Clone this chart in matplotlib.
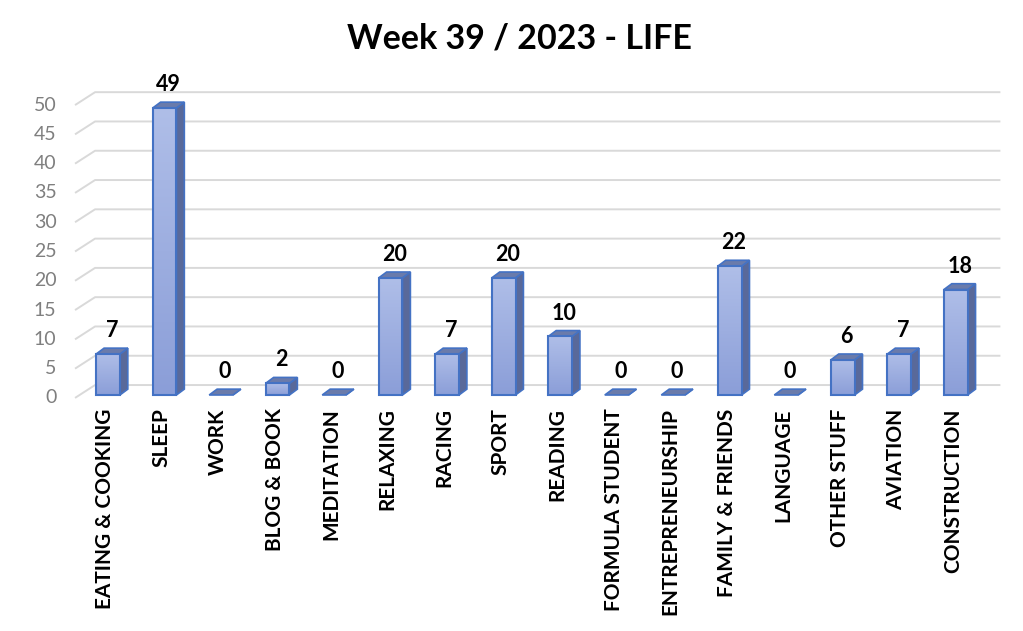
import numpy as np
import matplotlib.pyplot as plt
from matplotlib.patches import Polygon, Rectangle
from matplotlib.colors import LinearSegmentedColormap

categories = ["EATING & COOKING", "SLEEP", "WORK", "BLOG & BOOK", "MEDITATION",
              "RELAXING", "RACING", "SPORT", "READING", "FORMULA STUDENT",
              "ENTREPRENEURSHIP", "FAMILY & FRIENDS", "LANGUAGE", "OTHER STUFF",
              "AVIATION", "CONSTRUCTION"]
hours = [7, 49, 0, 2, 0, 20, 7, 20, 10, 0, 0, 22, 0, 6, 7, 18]
y_ticks = [0, 5, 10, 15, 20, 25, 30, 35, 40, 45, 50]

plt.rcParams['font.family'] = ['Lato', 'DejaVu Sans']

fig = plt.figure(figsize=(10.23, 6.31), dpi=100)
# axes box in pixels: x 60..1010, y 80..400 (from top)
ax = fig.add_axes([60 / 1023, 1 - 400 / 631, 950 / 1023, 320 / 631])
ax.set_xlim(-0.85, 15.96)
ax.set_ylim(-0.854, 53.78)
ax.axis('off')

# 3d look offsets (data units)
half_w = 0.21
dx, dy = 0.14, 1.0
grid_front_x, grid_back_x, grid_right = -0.584, -0.23, 15.79

grid_col = '#d9d9d9'
for v in y_ticks:
    y0 = v - 0.5
    y1 = v + 1.7
    ax.plot([grid_front_x, grid_back_x, grid_right], [y0, y1, y1],
            color=grid_col, lw=1.4, zorder=1, solid_capstyle='butt')
    ax.text(grid_front_x - 0.33, y0, str(v), ha='right', va='center',
            fontsize=14, color='#7f7f7f')

edge = '#4472c4'
grad = np.linspace(0, 1, 100).reshape(-1, 1)
cmap = LinearSegmentedColormap.from_list('bar', ['#8b9ed8', '#afbee8'])

for i, h in enumerate(hours):
    x0, x1 = i - half_w, i + half_w
    # side face
    side = Polygon([[x1, 0], [x1 + dx, dy], [x1 + dx, h + dy], [x1, h]],
                   closed=True, fc='#59699a', ec=edge, lw=1.2, zorder=3)
    ax.add_patch(side)
    # top face
    top = Polygon([[x0, h], [x1, h], [x1 + dx, h + dy], [x0 + dx, h + dy]],
                  closed=True, fc='#6a7bab', ec=edge, lw=1.2, zorder=4)
    ax.add_patch(top)
    if h > 0:
        front = Rectangle((x0, 0), x1 - x0, h, fc='none', ec=edge, lw=1.5, zorder=5)
        ax.add_patch(front)
        im = ax.imshow(grad, cmap=cmap, aspect='auto', extent=(x0, x1, 0, h),
                       origin='lower', zorder=4.5)
        im.set_clip_path(front)
    ax.text(i + dx / 2, h + dy + 1.2, str(h), ha='center', va='bottom',
            fontsize=15.5, fontweight='bold', color='black')
    ax.text(i - 0.05, -2.3, categories[i], rotation=90, ha='center', va='top',
            fontsize=15, fontweight='bold', color='black')

fig.text(0.508, 1 - 38 / 631, "Week 39 / 2023 - LIFE", ha='center', va='center',
         fontsize=24.5, fontweight='bold')

fig.savefig('out.png', dpi=100, facecolor='white')
